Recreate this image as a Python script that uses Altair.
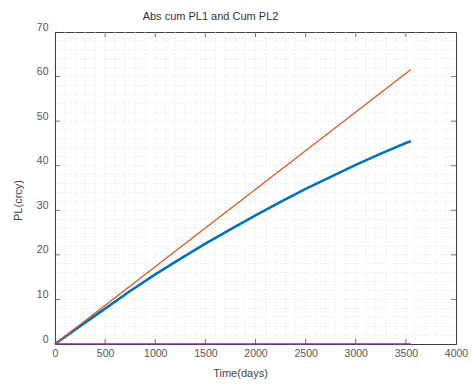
import altair as alt
import pandas as pd

# ---- data ----
days_pl1 = [0, 250, 500, 750, 1000, 1250, 1500, 1750, 2000, 2250, 2500, 2750, 3000, 3250, 3500, 3550]
abs_cum_pl1 = [0, 4.0, 7.95, 11.9, 15.6, 19.1, 22.5, 25.7, 28.85, 31.9, 34.8, 37.5, 40.2, 42.7, 45.1, 45.5]
days_pl2 = [0, 3550]
cum_pl2 = [0, 61.6]
days_zero = [0, 3550]
zero_vals = [0, 0]

x_ticks = [0, 500, 1000, 1500, 2000, 2500, 3000, 3500, 4000]
y_ticks = [0, 10, 20, 30, 40, 50, 60, 70]
x_minor = list(range(100, 4000, 100))
y_minor = list(range(2, 70, 2))

W, H = 401, 312
FONT = "Liberation Sans"
FRAME = "#404040"

xs = alt.Scale(domain=[0, 4000], nice=False)
ys = alt.Scale(domain=[0, 70], nice=False)

df1 = pd.DataFrame({"t": days_pl1, "v": abs_cum_pl1})
df2 = pd.DataFrame({"t": days_pl2, "v": cum_pl2})
df3 = pd.DataFrame({"t": days_zero, "v": zero_vals})

gx = alt.Chart(pd.DataFrame({"t": x_minor})).mark_rule(
    color="#e0e0e0", strokeWidth=0.8, strokeDash=[1, 2]
).encode(x=alt.X("t:Q", scale=xs))
gy = alt.Chart(pd.DataFrame({"v": y_minor})).mark_rule(
    color="#e0e0e0", strokeWidth=0.8, strokeDash=[1, 2]
).encode(y=alt.Y("v:Q", scale=ys))

xaxis = alt.Axis(values=x_ticks, ticks=False, grid=False, labelFlush=False, format="d",
                 title="Time(days)", titleX=185, titleY=29, titleBaseline="middle",
                 labelPadding=4, labelFontSize=10.5, labelColor="#555555",
                 titleFontSize=11, titleFontWeight="normal", titleColor="#444444",
                 labelFont=FONT, titleFont=FONT, domainColor=FRAME)
yaxis = alt.Axis(values=y_ticks, ticks=False, grid=False, labelFlush=False, format="d",
                 title="PL(crcy)", titleX=-37, titleY=168, titleBaseline="middle",
                 titleAlign="center", labelPadding=7, labelOffset=-5,
                 labelFontSize=10.5, labelColor="#555555",
                 titleFontSize=11, titleFontWeight="normal", titleColor="#444444",
                 labelFont=FONT, titleFont=FONT, domainColor=FRAME)

l1 = alt.Chart(df1).mark_line(color="#0072BD", strokeWidth=2.6).encode(
    x=alt.X("t:Q", scale=xs, axis=xaxis), y=alt.Y("v:Q", scale=ys, axis=yaxis))
l2 = alt.Chart(df2).mark_line(color="#D95319", strokeWidth=1.2).encode(
    x=alt.X("t:Q", scale=xs), y=alt.Y("v:Q", scale=ys))
l3 = alt.Chart(df3).mark_line(color="#7E2F8E", strokeWidth=1.5).encode(
    x=alt.X("t:Q", scale=xs), y=alt.Y("v:Q", scale=ys))

tdf_x = pd.DataFrame({"t": x_ticks[1:-1]})
tdf_y = pd.DataFrame({"v": y_ticks[1:-1]})
tb = alt.Chart(tdf_x).mark_tick(orient="vertical", size=5, thickness=1, color=FRAME).encode(
    x=alt.X("t:Q", scale=xs), y=alt.value(H - 2.5))
tt = alt.Chart(tdf_x).mark_tick(orient="vertical", size=5, thickness=1, color=FRAME).encode(
    x=alt.X("t:Q", scale=xs), y=alt.value(2.5))
tl = alt.Chart(tdf_y).mark_tick(orient="horizontal", size=5, thickness=1, color=FRAME).encode(
    y=alt.Y("v:Q", scale=ys), x=alt.value(2.5))
tr = alt.Chart(tdf_y).mark_tick(orient="horizontal", size=5, thickness=1, color=FRAME).encode(
    y=alt.Y("v:Q", scale=ys), x=alt.value(W - 2.5))

chart = alt.layer(gx, gy, l1, l2, l3, tb, tt, tl, tr).properties(
    width=W, height=H,
    title=alt.TitleParams("Abs cum PL1 and Cum PL2", anchor="middle", dx=-45, dy=12,
                          baseline="bottom", offset=1, fontSize=11,
                          fontWeight="normal", color="#333333", font=FONT),
    autosize=alt.AutoSizeParams(type="none"),
    padding={"left": 55, "top": 32, "right": 16, "bottom": 40},
    background="white",
).configure_view(stroke=FRAME, strokeWidth=1)

chart.save("out.html", embed_options={"renderer": "svg", "actions": False})
